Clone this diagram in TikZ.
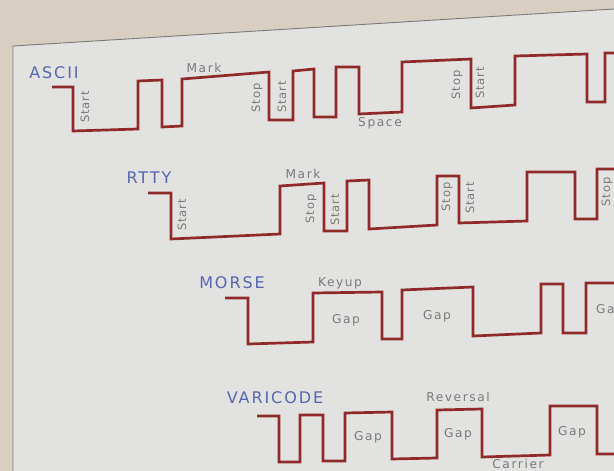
\documentclass[tikz,border=0pt]{standalone}
\usepackage{fontspec}
\setmainfont{DejaVu Sans}
\newfontfamily\lblfont[LetterSpace=13]{DejaVu Sans}
\newfontfamily\rotfont[LetterSpace=8]{DejaVu Sans}
\newfontfamily\ttlfont[LetterSpace=12]{DejaVu Sans}
\definecolor{paper}{HTML}{E2E2E0}
\definecolor{outside}{HTML}{D8CFC2}
\definecolor{framegray}{HTML}{7A7A7A}
\definecolor{wavered}{HTML}{902A2A}
\definecolor{lblgray}{HTML}{7A7A7A}
\definecolor{ttlblue}{HTML}{5666B0}
\begin{document}
\begin{tikzpicture}[x=1pt,y=-1pt,
  wave/.style={draw=wavered, line width=2.7pt, line join=miter},
  lbl/.style={text=lblgray, font=\lblfont\fontsize{12.2}{12.2}\selectfont, inner sep=0pt},
  rlbl/.style={text=lblgray, font=\rotfont\fontsize{11.5}{11.5}\selectfont, inner sep=0pt, rotate=90},
  ttl/.style={text=ttlblue, font=\ttlfont\fontsize{16}{16}\selectfont, inner sep=0pt}]
\useasboundingbox (0,0) rectangle (614,471);
\clip (0,0) rectangle (614,471);
% background
\fill[outside] (0,0) rectangle (614,471);
\fill[paper] (13,46) -- (614,9) -- (614,471) -- (13,471) -- cycle;
\draw[framegray, line width=0.9pt] (13,471) -- (13,46) -- (614,9);

% ASCII
\draw[wave] (52,87) -- (73,87) -- (73,131) -- (138,129) -- (138,81) -- (162,80) -- (162,127) -- (182,126) -- (182,79) -- (269,72) -- (269,120) -- (293,120) -- (293,71) -- (314,69) -- (314,117) -- (336,117) -- (336,67) -- (359,67) -- (359,114) -- (402,112) -- (402,62) -- (471,59) -- (471,108) -- (515,105) -- (515,56) -- (587,54) -- (587,102) -- (605,102) -- (605,53) -- (618,53);
\node[ttl] (tascii) at (54,73) {ASCII};
\node[rlbl] (a1) at (85,107) {Start};
\node[lbl] (a2) at (204,68) {Mark};
\node[rlbl] (a3) at (257,98) {Stop};
\node[rlbl] (a4) at (282,97) {Start};
\node[lbl] (a5) at (380,123) {Space};
\node[rlbl] (a6) at (457,85) {Stop};
\node[rlbl] (a7) at (480,83) {Start};

% RTTY
\draw[wave] (148,193) -- (171,193) -- (171,239) -- (280,234) -- (280,186) -- (324,183) -- (324,231) -- (347,231) -- (347,181) -- (369,180) -- (369,229) -- (437,225) -- (437,176) -- (459,176) -- (459,223) -- (527,221) -- (527,172) -- (575,172) -- (575,219) -- (597,219) -- (597,169) -- (618,169);
\node[ttl] (trtty) at (149,178) {RTTY};
\node[rlbl] (r1) at (182,215) {Start};
\node[lbl] (r2) at (303,174) {Mark};
\node[rlbl] (r3) at (311,209) {Stop};
\node[rlbl] (r4) at (335,210) {Start};
\node[rlbl] (r5) at (447,197) {Stop};
\node[rlbl] (r6) at (470,198) {Start};
\node[rlbl] (r7) at (607,192) {Stop};

% MORSE
\draw[wave] (225,298) -- (248,298) -- (248,344) -- (313,342) -- (313,293) -- (382,292) -- (382,339) -- (402,339) -- (402,290) -- (473,287) -- (473,336) -- (541,333) -- (541,284) -- (563,284) -- (563,333) -- (586,333) -- (586,283) -- (618,283);
\node[ttl] (tmorse) at (232,283) {MORSE};
\node[lbl] (m1) at (340,283) {Keyup};
\node[lbl] (m2) at (346,320) {Gap};
\node[lbl] (m3) at (437,316) {Gap};
\node[lbl, anchor=west] (m4) at (596,310) {Gap};

% VARICODE
\draw[wave] (257,416) -- (279,416) -- (279,462) -- (300,462) -- (300,415) -- (323,415) -- (323,461) -- (345,461) -- (345,413) -- (392,412) -- (392,459) -- (437,458) -- (437,410) -- (482,409) -- (482,457) -- (550,455) -- (550,406) -- (597,406) -- (597,454) -- (618,454);
\node[ttl] (tvari) at (275,398) {VARICODE};
\node[lbl] (v1) at (458,397) {Reversal};
\node[lbl] (v2) at (368,437) {Gap};
\node[lbl] (v3) at (458,434) {Gap};
\node[lbl] (v4) at (572,432) {Gap};
\node[lbl] (v5) at (518,464) {Carrier};
\end{tikzpicture}
\end{document}
